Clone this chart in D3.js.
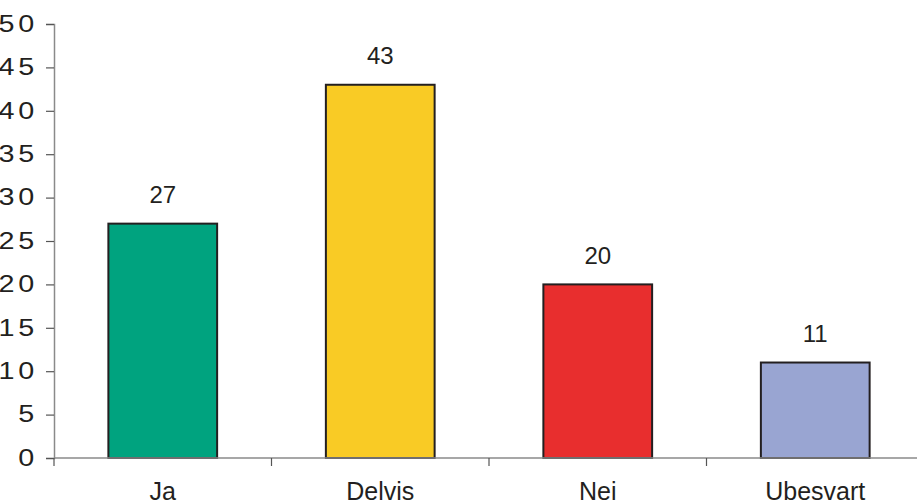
<!DOCTYPE html>
<html>
<head>
<meta charset="utf-8">
<script src="https://cdn.jsdelivr.net/npm/d3@7"></script>
<style>
  html, body { margin: 0; padding: 0; background: #fff; }
  svg { display: block; }
  text { font-family: "Liberation Sans", Arial, sans-serif; fill: #231f20; }
</style>
</head>
<body>
<svg id="chart" width="917" height="504"></svg>
<script>
// Survey answers, share of respondents (%)
const categories = ["Ja", "Delvis", "Nei", "Ubesvart"];
const values = [27, 43, 20, 11];
const barColors = ["#00a37f", "#f9cb25", "#e82e2e", "#99a5d2"];
const yTicks = [0, 5, 10, 15, 20, 25, 30, 35, 40, 45, 50];

const svg = d3.select("#chart");
const plotLeft = 54, plotRight = 924, plotTop = 24, plotBottom = 458;

const x = d3.scaleBand()
  .domain(categories)
  .range([plotLeft, plotRight])
  .paddingInner(0.5)
  .paddingOuter(0.25);

const y = d3.scaleLinear().domain([0, 50]).range([plotBottom, plotTop]);

// Bars
svg.append("g").selectAll("rect")
  .data(values)
  .join("rect")
  .attr("x", (d, i) => x(categories[i]))
  .attr("y", d => y(d))
  .attr("width", x.bandwidth())
  .attr("height", d => y(0) - y(d))
  .attr("fill", (d, i) => barColors[i])
  .attr("stroke", "#231f20")
  .attr("stroke-width", 2);

// Value labels above bars
svg.append("g").selectAll("text")
  .data(values)
  .join("text")
  .attr("x", (d, i) => x(categories[i]) + x.bandwidth() / 2)
  .attr("y", d => y(d) - 20.5)
  .attr("text-anchor", "middle")
  .attr("font-size", 24)
  .text(d => d);

// Y axis (tick numbers are set wide, in a horizontally stretched face)
const stretch = 1.25;
const spacing = 3;
const yAxis = svg.append("g")
  .attr("transform", `translate(${plotLeft},0)`)
  .call(d3.axisLeft(y).tickValues(yTicks).tickSize(8).tickPadding(6));
yAxis.select(".domain").attr("stroke", "#8a8a8a").attr("stroke-width", 1.5);
yAxis.selectAll(".tick line").attr("stroke", "#555").attr("stroke-width", 1.2);
yAxis.selectAll(".tick text")
  .attr("font-size", 23)
  .attr("font-family", "Liberation Sans, Arial, sans-serif")
  .attr("letter-spacing", spacing)
  .attr("fill", "#231f20")
  .attr("x", -21 / stretch + spacing + 1)
  .attr("transform", `scale(${stretch},1)`);

// X axis: ticks sit on category boundaries
const boundaries = d3.range(categories.length + 1).map(i => plotLeft + i * x.step());
const xg = svg.append("g");
xg.append("line")
  .attr("x1", plotLeft).attr("x2", plotRight)
  .attr("y1", plotBottom).attr("y2", plotBottom)
  .attr("stroke", "#8a8a8a").attr("stroke-width", 1.5);
xg.selectAll("line.tick")
  .data(boundaries)
  .join("line")
  .attr("class", "tick")
  .attr("x1", d => d).attr("x2", d => d)
  .attr("y1", plotBottom).attr("y2", plotBottom + 8)
  .attr("stroke", "#555").attr("stroke-width", 1.2);
xg.selectAll("text")
  .data(categories)
  .join("text")
  .attr("x", d => x(d) + x.bandwidth() / 2)
  .attr("y", 500)
  .attr("text-anchor", "middle")
  .attr("font-size", 25)
  .text(d => d);
</script>
</body>
</html>
